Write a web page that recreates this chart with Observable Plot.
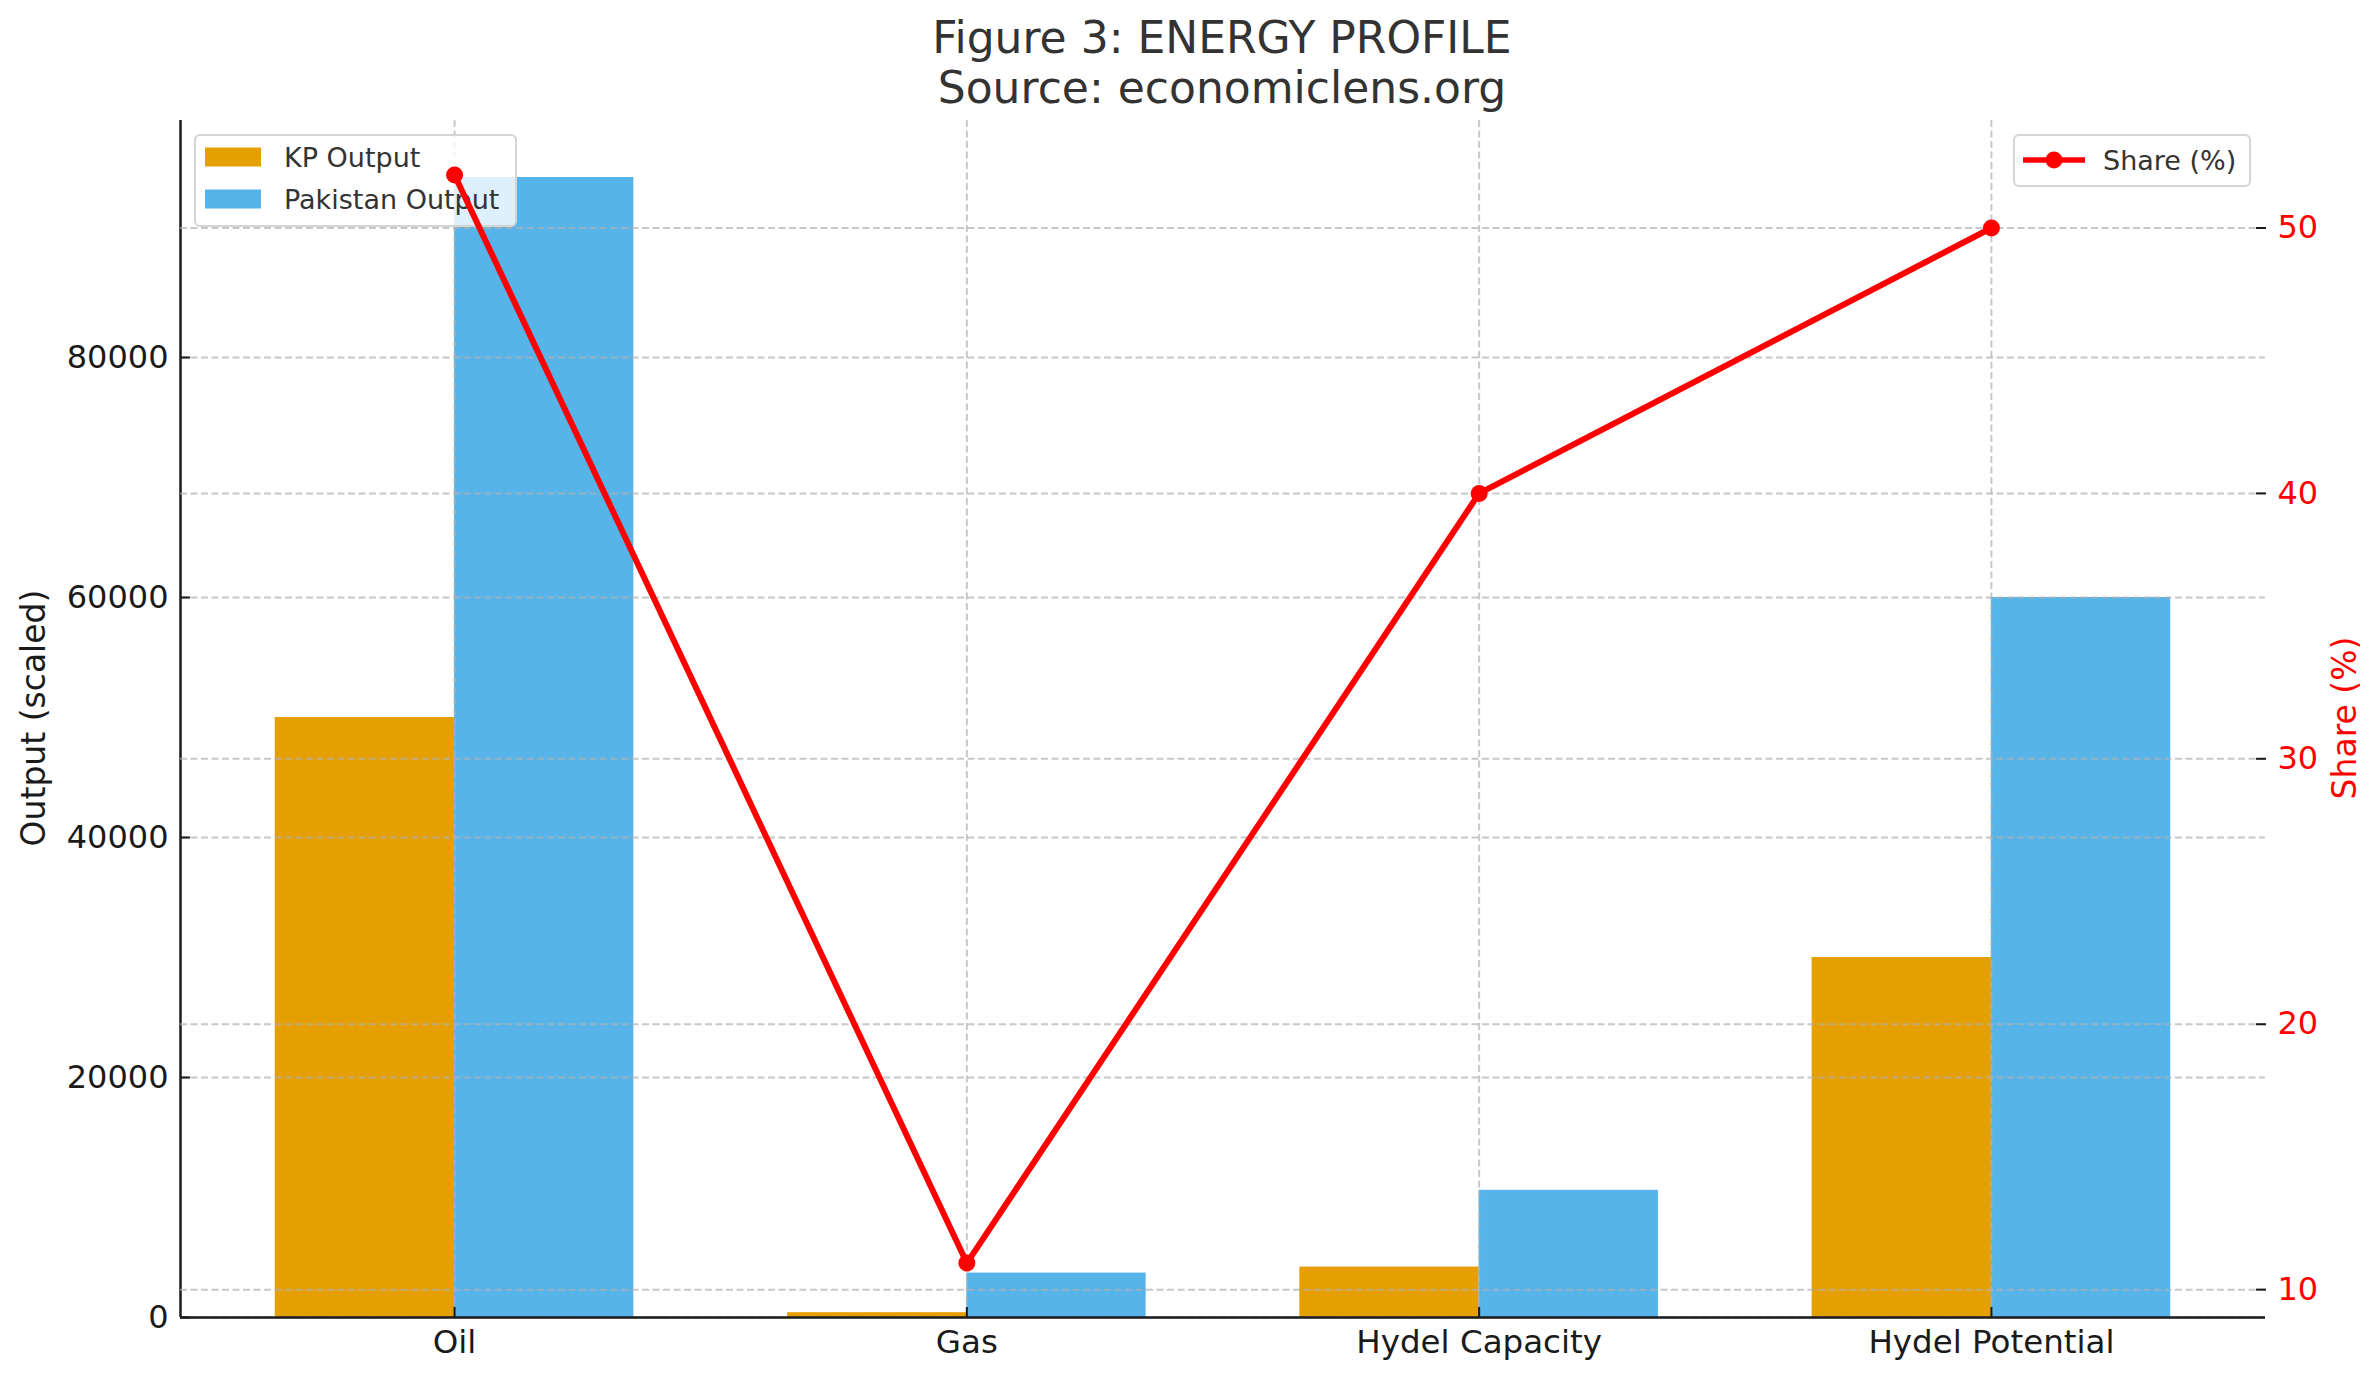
<!DOCTYPE html>
<html>
<head>
<meta charset="utf-8">
<script src="https://cdn.jsdelivr.net/npm/d3@7"></script>
<script src="https://cdn.jsdelivr.net/npm/@observablehq/plot@0.6"></script>
<style>
  html, body { margin: 0; padding: 0; background: #fff; }
  #wrap { position: relative; width: 2379px; height: 1380px; overflow: hidden; font-family: "DejaVu Sans", sans-serif; background: #fff; }
  .abs { position: absolute; }
  .title { left: 0; width: 2444px; text-align: center; font-size: 44px; color: #333; line-height: 1; z-index: 6; }
  .ylab { font-size: 33px; white-space: nowrap; transform: translate(-50%, -50%) rotate(-90deg); line-height: 1; z-index: 6; }
  .legend { border: 2px solid #d4d4d4; border-radius: 6px; background: rgba(255,255,255,0.8); box-sizing: border-box; }
  .legend .row { position: absolute; left: 0; height: 40px; width: 100%; }
  .legend .txt { position: absolute; left: 88px; top: 50%; transform: translateY(-50%); font-size: 27px; color: #333; white-space: nowrap; line-height: 1; }
  .legend .sw { position: absolute; left: 9px; top: 50%; width: 56px; height: 19px; transform: translateY(-50%); }
  #plot1, #plot2 { position: absolute; left: 0; top: 100px; }
</style>
</head>
<body>
<div id="wrap">
  <div id="plot1" style="z-index:1"></div>
  <div id="legendLeft" class="abs legend" style="z-index:2; left:194px; top:134px; width:323px; height:93px;"></div>
  <div id="plot2" style="z-index:3"></div>
  <div id="legendRight" class="abs legend" style="z-index:4; left:2013px; top:134px; width:238px; height:53px;"></div>
  <div class="abs title" style="top:16px;">Figure 3: ENERGY PROFILE</div>
  <div class="abs title" style="top:66px;">Source: economiclens.org</div>
  <div class="abs ylab" style="left:33px; top:718px; color:#1a1a1a;">Output (scaled)</div>
  <div class="abs ylab" style="left:2344px; top:718px; color:#ff0000;">Share (%)</div>
</div>
<script>
// ---- Data ----
const categories = ["Oil", "Gas", "Hydel Capacity", "Hydel Potential"];
const kpOutput = [50000, 400, 4200, 30000];
const pakistanOutput = [95000, 3700, 10600, 60000];
const sharePct = [52, 11, 40, 50];
const outputTicks = [0, 20000, 40000, 60000, 80000];
const shareTicks = [10, 20, 30, 40, 50];
const seriesNames = ["KP Output", "Pakistan Output", "Share (%)"];
const seriesColors = ["#E69F00", "#56B4E9", "#ff0000"];

// ---- Layout ----
const W = 2379, H = 1280;
const margins = { marginTop: 20, marginBottom: 63, marginLeft: 180, marginRight: 114 };
const barW = 0.35;
const font = "DejaVu Sans";
const gridStyle = { stroke: "#b0b0b0", strokeOpacity: 0.7, strokeWidth: 2, strokeDasharray: "7,3.5" };

const rows = categories.map((c, i) => ({ i, category: c, kp: kpOutput[i], pak: pakistanOutput[i], share: sharePct[i] }));
const idx = rows.map(d => d.i);
const xPad = (idx.length - 1 + 2 * barW) * 0.05;
const xDomain = [-barW - xPad, idx.length - 1 + barW + xPad];
const yMax = d3.max(pakistanOutput) * 1.05;
const sExt = d3.extent(sharePct);
const sPad = (sExt[1] - sExt[0]) * 0.05;
const sDomain = [sExt[0] - sPad, sExt[1] + sPad];

const plot1 = Plot.plot({
  width: W, height: H, ...margins,
  style: { fontFamily: font, background: "#fff", color: "#1a1a1a" },
  x: { type: "linear", domain: xDomain },
  y: { domain: [0, yMax] },
  marks: [
    Plot.rectY(rows, { x1: d => d.i - barW, x2: d => d.i, y1: 0, y2: "kp", fill: seriesColors[0] }),
    Plot.rectY(rows, { x1: d => d.i, x2: d => d.i + barW, y1: 0, y2: "pak", fill: seriesColors[1] }),
    Plot.gridY(outputTicks, gridStyle),
    Plot.gridX(idx, gridStyle),
    Plot.ruleX([xDomain[0]], { stroke: "#1a1a1a", strokeWidth: 2.5 }),
    Plot.ruleY([0], { stroke: "#1a1a1a", strokeWidth: 2.5 }),
    Plot.axisY(outputTicks, { anchor: "left", tickSize: -10, tickPadding: 22, fontSize: 32, label: null, tickFormat: d => String(d), stroke: "#1a1a1a", fill: "#1a1a1a", strokeWidth: 2 }),
    Plot.axisX(idx, { anchor: "bottom", tickSize: -10, tickPadding: 22, fontSize: 32.5, label: null, tickFormat: i => categories[i], stroke: "#1a1a1a", fill: "#1a1a1a", strokeWidth: 2 })
  ]
});
document.getElementById("plot1").appendChild(plot1);

const plot2 = Plot.plot({
  width: W, height: H, ...margins,
  style: { fontFamily: font, background: "transparent", color: "#1a1a1a" },
  x: { type: "linear", domain: xDomain, axis: null },
  y: { domain: sDomain },
  marks: [
    Plot.gridY(shareTicks, gridStyle),
    Plot.line(rows, { x: "i", y: "share", stroke: seriesColors[2], strokeWidth: 6 }),
    Plot.dot(rows, { x: "i", y: "share", r: 8.5, fill: seriesColors[2], stroke: "none" }),
    Plot.axisY(shareTicks, { anchor: "right", tickSize: -10, tickPadding: 22, fontSize: 32, label: null, tickFormat: d => String(d), stroke: "#1a1a1a", fill: seriesColors[2], strokeWidth: 2 })
  ]
});
document.getElementById("plot2").appendChild(plot2);

// ---- Legends ----
const ll = document.getElementById("legendLeft");
[0, 1].forEach((k, j) => {
  const row = document.createElement("div");
  row.className = "row";
  row.style.top = (j === 0 ? 1 : 43) + "px";
  row.innerHTML = `<div class="sw" style="background:${seriesColors[k]}"></div><div class="txt">${seriesNames[k]}</div>`;
  ll.appendChild(row);
});
const lr = document.getElementById("legendRight");
const rrow = document.createElement("div");
rrow.className = "row";
rrow.style.top = "4px";
rrow.innerHTML = `<svg width="80" height="40" style="position:absolute;left:4px;top:0"><line x1="4" x2="66" y1="20" y2="20" stroke="${seriesColors[2]}" stroke-width="5.5"/><circle cx="35" cy="20" r="8.5" fill="${seriesColors[2]}"/></svg><div class="txt">${seriesNames[2]}</div>`;
lr.appendChild(rrow);
</script>
</body>
</html>
